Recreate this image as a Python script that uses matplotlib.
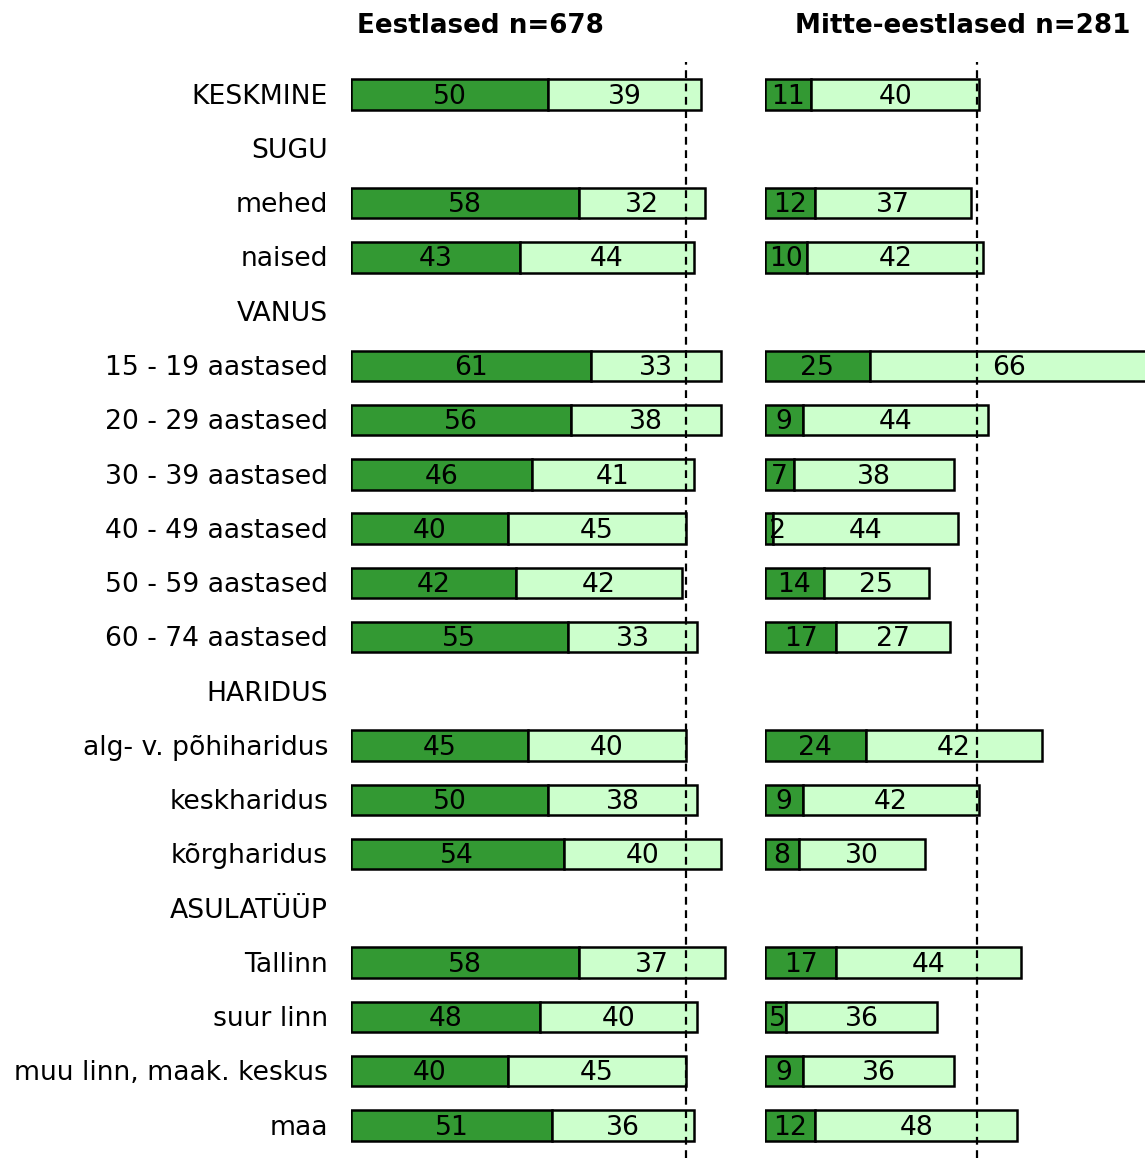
import numpy as np
import matplotlib
matplotlib.use("Agg")
import matplotlib.pyplot as plt

plt.rcParams['font.family'] = ['DejaVu Sans']

labels = ["KESKMINE", "SUGU", "mehed", "naised", "VANUS",
          "15 - 19 aastased", "20 - 29 aastased", "30 - 39 aastased",
          "40 - 49 aastased", "50 - 59 aastased", "60 - 74 aastased",
          "HARIDUS", "alg- v. põhiharidus", "keskharidus", "kõrgharidus",
          "ASULATÜÜP", "Tallinn", "suur linn", "muu linn, maak. keskus", "maa"]

# None marks a heading row without bars
est_dark = [50, None, 58, 43, None, 61, 56, 46, 40, 42, 55, None, 45, 50, 54, None, 58, 48, 40, 51]
est_light = [39, None, 32, 44, None, 33, 38, 41, 45, 42, 33, None, 40, 38, 40, None, 37, 40, 45, 36]
non_dark = [11, None, 12, 10, None, 25, 9, 7, 2, 14, 17, None, 24, 9, 8, None, 17, 5, 9, 12]
non_light = [40, None, 37, 42, None, 66, 44, 38, 44, 25, 27, None, 42, 42, 30, None, 44, 36, 36, 48]

titles = ["Eestlased n=678", "Mitte-eestlased n=281"]
ref_lines = [85, 50.5]

DARK = "#339933"
LIGHT = "#ccffcc"
W, H = 1145, 1158

fig = plt.figure(figsize=(W / 100, H / 100), dpi=100)

def px_axes(x0, x1, y0, y1):
    return fig.add_axes([x0 / W, 1 - y1 / H, (x1 - x0) / W, (y1 - y0) / H])

ax_left = px_axes(351, 745, 62, 1158)
ax_right = px_axes(765, 1145, 62, 1158)
axes = [ax_left, ax_right]
xmax = [(745 - 351) / 3.937, (1145 - 765) / 4.2]

n = len(labels)
fs = 19.2

for ax, dark, light, ref, xm in zip(axes, [est_dark, non_dark],
                                    [est_light, non_light], ref_lines, xmax):
    for i in range(n):
        if dark[i] is None:
            continue
        ax.barh(i, dark[i], height=0.56, color=DARK, edgecolor="black",
                linewidth=1.8)
        ax.barh(i, light[i], left=dark[i], height=0.56, color=LIGHT,
                edgecolor="black", linewidth=1.8)
        # tiny segments: keep the number from sticking out on the left
        ax.text(max(dark[i] / 2, 3.0), i + 0.04, str(dark[i]), ha="center",
                va="center", fontsize=fs, color="black")
        ax.text(dark[i] + light[i] / 2, i + 0.04, str(light[i]), ha="center",
                va="center", fontsize=fs, color="black")
    ax.axvline(ref, color="black", linestyle=(0, (3.5, 2.5)), linewidth=1.6)
    ax.set_xlim(0, xm)
    ax.set_ylim(n - 0.4, -0.6)
    ax.axis("off")

for i, lab in enumerate(labels):
    ax_left.text(-23 / 3.937, i + 0.04, lab, ha="right", va="center",
                 fontsize=fs, color="black")

fig.text(480 / W, 1 - 26 / H, titles[0], ha="center", va="center",
         fontsize=18.8, fontweight="bold")
fig.text(963 / W, 1 - 26 / H, titles[1], ha="center", va="center",
         fontsize=18.8, fontweight="bold")

fig.savefig("out.png", dpi=100)
